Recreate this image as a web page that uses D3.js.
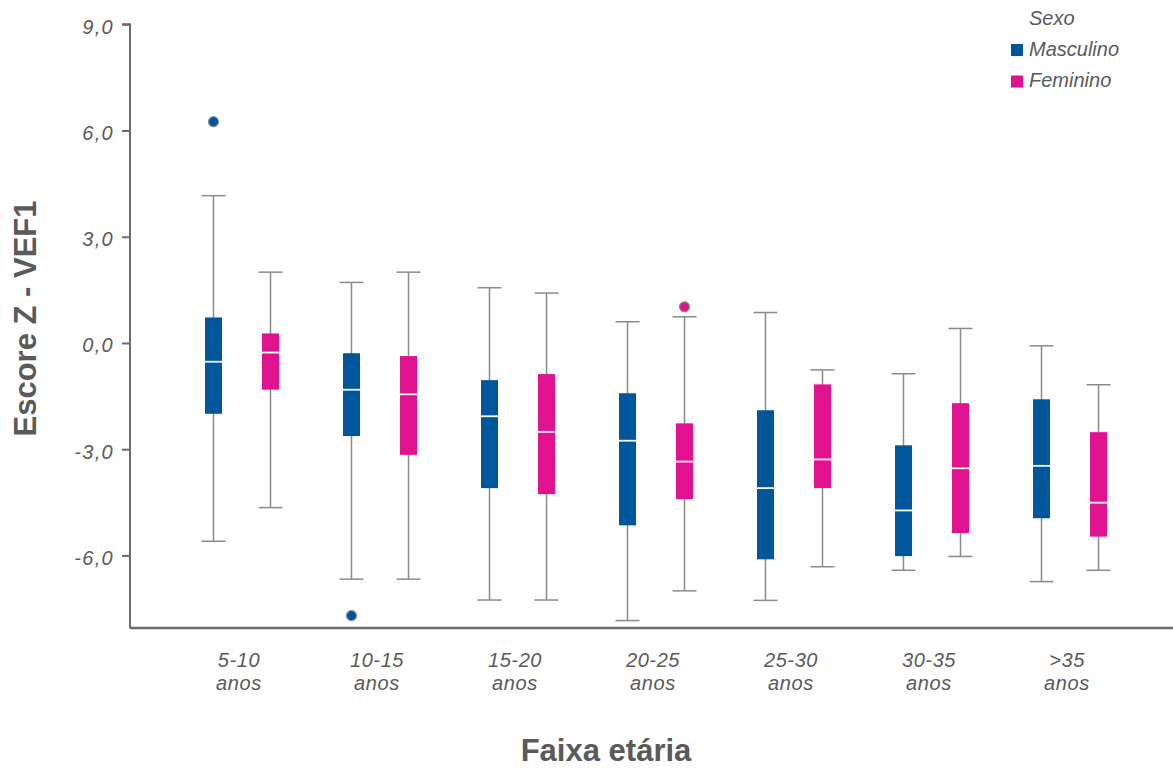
<!DOCTYPE html>
<html>
<head>
<meta charset="utf-8">
<script src="https://cdn.jsdelivr.net/npm/d3@7"></script>
<style>
  html, body { margin: 0; padding: 0; background: #fff; }
  svg { display: block; font-family: "Liberation Sans", Arial, sans-serif; }
</style>
</head>
<body>
<svg id="chart" width="1173" height="769"></svg>
<script>
// Age groups (two-line labels)
const categories = ["5-10", "10-15", "15-20", "20-25", "25-30", "30-35", ">35"];
const sexes = ["Masculino", "Feminino"];
const yTicks = [9, 6, 3, 0, -3, -6];

// Box statistics per age group: [whiskerLow, q1, median, q3, whiskerHigh]
const masculino = [
  [-5.60, -2.00, -0.53, 0.72, 4.16],
  [-6.67, -2.63, -1.32, -0.29, 1.71],
  [-7.26, -4.10, -2.07, -1.05, 1.56],
  [-7.84, -5.15, -2.76, -1.42, 0.60],
  [-7.27, -6.11, -4.10, -1.90, 0.86],
  [-6.42, -6.02, -4.73, -2.89, -0.87],
  [-6.74, -4.95, -3.47, -1.59, -0.08]
];
const feminino = [
  [-4.65, -1.32, -0.27, 0.27, 2.00],
  [-6.67, -3.16, -1.45, -0.37, 2.00],
  [-7.26, -4.27, -2.51, -0.88, 1.41],
  [-7.00, -4.41, -3.35, -2.27, 0.74],
  [-6.32, -4.10, -3.29, -1.17, -0.76],
  [-6.03, -5.37, -3.54, -1.70, 0.41],
  [-6.42, -5.47, -4.51, -2.52, -1.18]
];
// Outliers: [group, sex, value]
const outliers = [
  ["5-10", "Masculino", 6.25],
  ["10-15", "Masculino", -7.70],
  ["20-25", "Feminino", 1.02]
];

const colors = { Masculino: "#00569A", Feminino: "#E0128F" };
const series = { Masculino: masculino, Feminino: feminino };

const svg = d3.select("#chart");
const textColor = "#5a5a5a";
const axisColor = "#6b6b6b";

const x = d3.scaleBand().domain(categories).range([173, 1139]);
const xs = d3.scalePoint().domain(sexes).range([-28.5, 28.5]);
const y = d3.scaleLinear().domain([-8.05, 9]).range([628, 24.3]);

const boxW = 17, capW = 24;

// Y axis
const yAxis = svg.append("g")
  .attr("transform", "translate(130,0)")
  .call(d3.axisLeft(y).tickValues(yTicks).tickSize(8)
    .tickFormat(d => d3.format(".1f")(d).replace(".", ",").replace("\u2212", "-")));
yAxis.select(".domain").attr("stroke", axisColor).attr("stroke-width", 2)
  .attr("d", `M-8,${y(9)}H0V${y.range()[0]}`);
yAxis.selectAll(".tick line").attr("stroke", axisColor).attr("stroke-width", 2);
yAxis.selectAll(".tick text")
  .attr("fill", textColor).attr("font-size", 20).attr("font-style", "italic")
  .attr("letter-spacing", 1.3)
  .attr("font-family", "'Liberation Sans', Arial, sans-serif")
  .attr("x", -16).attr("dy", "0.45em");

// X axis line
svg.append("line")
  .attr("x1", 130).attr("x2", 1173)
  .attr("y1", y.range()[0]).attr("y2", y.range()[0])
  .attr("stroke", axisColor).attr("stroke-width", 2.5);

// X labels
const xl = svg.append("g");
categories.forEach(c => {
  const cx = x(c) + x.bandwidth() / 2 - 3;
  const t = xl.append("text")
    .attr("text-anchor", "middle").attr("fill", textColor)
    .attr("font-size", 20).attr("font-style", "italic")
    .attr("letter-spacing", 0.6);
  t.append("tspan").attr("x", cx).attr("y", 667).text(c);
  t.append("tspan").attr("x", cx).attr("y", 690).text("anos");
});

// Boxes
sexes.forEach(s => {
  const g = svg.append("g");
  series[s].forEach((st, i) => {
    const cx = x(categories[i]) + x.bandwidth() / 2 + xs(s);
    const [lo, q1, med, q3, hi] = st;
    // whisker
    g.append("line").attr("x1", cx).attr("x2", cx)
      .attr("y1", y(hi)).attr("y2", y(lo))
      .attr("stroke", "#8a8a8a").attr("stroke-width", 1.5);
    g.append("line").attr("x1", cx - capW / 2).attr("x2", cx + capW / 2)
      .attr("y1", y(hi)).attr("y2", y(hi))
      .attr("stroke", "#8a8a8a").attr("stroke-width", 1.5);
    g.append("line").attr("x1", cx - capW / 2).attr("x2", cx + capW / 2)
      .attr("y1", y(lo)).attr("y2", y(lo))
      .attr("stroke", "#8a8a8a").attr("stroke-width", 1.5);
    // box
    g.append("rect").attr("x", cx - boxW / 2).attr("width", boxW)
      .attr("y", y(q3)).attr("height", y(q1) - y(q3))
      .attr("fill", colors[s]);
    // median
    g.append("line").attr("x1", cx - boxW / 2).attr("x2", cx + boxW / 2)
      .attr("y1", y(med)).attr("y2", y(med))
      .attr("stroke", "#fff").attr("stroke-width", 1.8);
  });
});

// Outliers
svg.append("g").selectAll("circle").data(outliers).join("circle")
  .attr("cx", d => x(d[0]) + x.bandwidth() / 2 + xs(d[1]))
  .attr("cy", d => y(d[2]))
  .attr("r", 5)
  .attr("fill", d => colors[d[1]])
  .attr("stroke", "#8a8a8a").attr("stroke-width", 1.2);

// Axis titles
svg.append("text")
  .attr("transform", "translate(36,318.5) rotate(-90)")
  .attr("text-anchor", "middle").attr("fill", textColor)
  .attr("font-size", 31).attr("font-weight", "bold")
  .text("Escore Z - VEF1");
svg.append("text")
  .attr("x", 606).attr("y", 761)
  .attr("text-anchor", "middle").attr("fill", textColor)
  .attr("font-size", 31).attr("font-weight", "bold")
  .text("Faixa etária");

// Legend
const lg = svg.append("g");
lg.append("text").attr("x", 1029).attr("y", 25)
  .attr("fill", textColor).attr("font-size", 20).attr("font-style", "italic").text("Sexo");
sexes.forEach((s, i) => {
  lg.append("rect").attr("x", 1011).attr("y", 44 + i * 31.5).attr("width", 12).attr("height", 12)
    .attr("fill", colors[s]);
  lg.append("text").attr("x", 1029).attr("y", 56 + i * 31)
    .attr("fill", textColor).attr("font-size", 20).attr("font-style", "italic").text(s);
});
</script>
</body>
</html>
